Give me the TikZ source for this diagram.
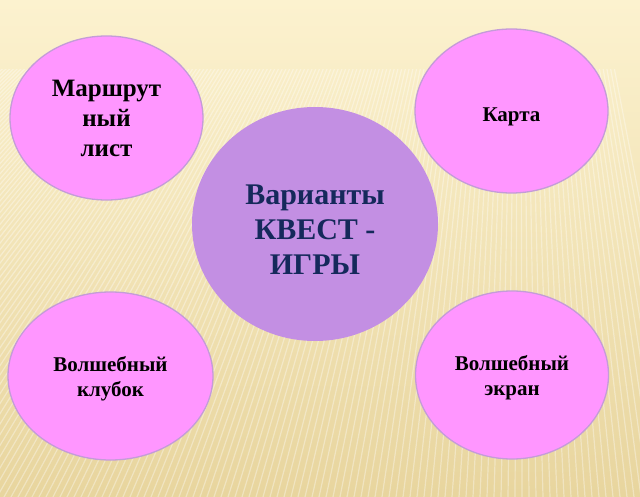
\documentclass[tikz,border=0pt]{standalone}
\usepackage{fontspec}
\setmainfont{Liberation Serif}
\usetikzlibrary{shapes.geometric}
\definecolor{fonTop}{HTML}{FCF2CF}
\definecolor{fonBot}{HTML}{E8D59E}
\definecolor{rozov}{HTML}{FF96FF}
\definecolor{kontur}{HTML}{C49CD8}
\definecolor{sirenev}{HTML}{C38FE3}
\definecolor{tsin}{HTML}{15295B}
\begin{document}
\begin{tikzpicture}[x=1pt,y=-1pt,
    krug/.style={ellipse,draw=kontur,line width=1.3pt,fill=rozov,inner sep=0pt,align=center},
    polosa/.style={white,line width=1.2pt,opacity=0.35}]
        \useasboundingbox (0,0) rectangle (640,497);
        \shade[top color=fonTop,bottom color=fonBot] (0,0) rectangle (640,497);

        % polosy fona
        \begin{scope}
            \clip (0,70) rectangle (640,497);
            \foreach \bx in {-500,-493,...,700}
                \draw[polosa] (520,-420) -- (\bx,497);
        \end{scope}

        \node[krug,minimum width=193,minimum height=164,font=\bfseries\fontsize{25}{30}\selectfont]
            (marshrut) at (106.5,118) {Маршрут\\ный\\лист};
        \node[krug,minimum width=193,minimum height=164,text height=26pt,
            font=\bfseries\fontsize{21}{25}\selectfont]
            (karta) at (511.5,111) {Карта};
        \node[krug,minimum width=205,minimum height=168,text height=46pt,
            font=\bfseries\fontsize{21}{25}\selectfont]
            (klubok) at (110.5,376) {Волшебный\\клубок};
        \node[krug,minimum width=193,minimum height=168,text height=46pt,
            font=\bfseries\fontsize{21}{25}\selectfont]
            (ekran) at (512,375) {Волшебный\\экран};

        \node[ellipse,fill=sirenev,inner sep=0pt,minimum width=246,minimum height=234,
            align=center,text height=100pt,font=\bfseries\fontsize{30}{35}\selectfont,text=tsin]
            (kvest) at (315,224) {Варианты\\КВЕСТ -\\ИГРЫ};
    \end{tikzpicture}
\end{document}
